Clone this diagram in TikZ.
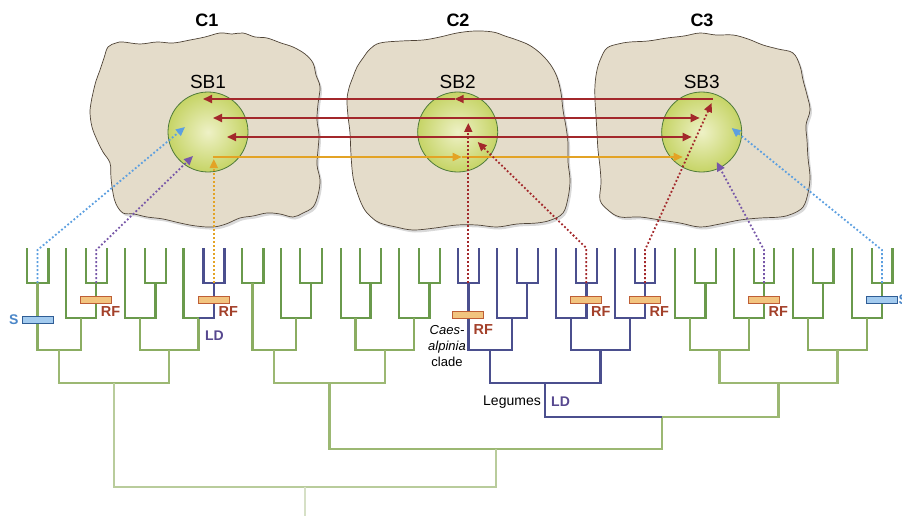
\documentclass[tikz,border=0pt]{standalone}
\usepackage{fontspec}
\setmainfont{Liberation Sans}
\usepackage{xcolor}
\usetikzlibrary{arrows.meta,calc,positioning,shadows}

\definecolor{blobfill}{HTML}{E4DCCA}
\definecolor{blobline}{HTML}{4F4437}
\definecolor{sbline}{HTML}{4E7A3A}
\definecolor{sbin}{HTML}{EEF1C6}
\definecolor{sbout}{HTML}{C6D466}
\definecolor{redarr}{HTML}{A3282B}
\definecolor{orgarr}{HTML}{E3A325}
\definecolor{bluedot}{HTML}{5C9FE0}
\definecolor{purpdot}{HTML}{7757A8}
\definecolor{greenA}{HTML}{6A9A4C}
\definecolor{greenB}{HTML}{8BAD62}
\definecolor{greenC}{HTML}{9CB873}
\definecolor{greenD}{HTML}{B9CC9C}
\definecolor{greenE}{HTML}{D6E0C6}
\definecolor{legblue}{HTML}{4B4F8E}
\definecolor{rffill}{HTML}{F2C47F}
\definecolor{rfline}{HTML}{BE5E36}
\definecolor{rfred}{HTML}{A3402A}
\definecolor{sfill}{HTML}{A3CBEF}
\definecolor{sline}{HTML}{2F5D95}
\definecolor{sblue}{HTML}{4A86C8}
\definecolor{ldpurple}{HTML}{57488F}

\begin{document}
\begin{tikzpicture}[x=1pt,y=-1pt]

        \tikzstyle{cellblob}=[fill=blobfill,draw=blobline,line width=0.7pt,
            drop shadow={shadow xshift=2pt,shadow yshift=-2.5pt,opacity=0.3}]
        \tikzstyle{sbball}=[circle,minimum size=80pt,inner sep=0pt,draw=sbline,
            line width=0.8pt,inner color=sbin,outer color=sbout]
        \tikzstyle{clabel}=[font=\fontsize{18}{20}\selectfont\bfseries]
        \tikzstyle{sblabel}=[font=\fontsize{19}{21}\selectfont,inner sep=1pt]
        \tikzstyle{redline}=[draw=redarr,line width=1.9pt]
        \tikzstyle{orangeline}=[draw=orgarr,line width=1.7pt]
        \tikzstyle{headR}=[-{Triangle[length=9pt,width=8pt]}]
        \tikzstyle{headLR}=[{Triangle[length=9pt,width=8pt]}-{Triangle[length=9pt,width=8pt]}]
        \tikzstyle{dotarrow}=[line width=1.8pt,dash pattern=on 1.8pt off 2.2pt,
            -{Triangle[length=9pt,width=8pt]}]
        \tikzstyle{brA}=[draw=greenA,line width=2.4pt]
        \tikzstyle{brB}=[draw=greenB,line width=2.4pt]
        \tikzstyle{brC}=[draw=greenC,line width=2.4pt]
        \tikzstyle{brD}=[draw=greenD,line width=2.4pt]
        \tikzstyle{brLeg}=[draw=legblue,line width=2.4pt]
        \tikzstyle{rfbar}=[draw=rfline,fill=rffill,line width=0.8pt,
            minimum width=31pt,minimum height=6.5pt,inner sep=0pt]
        \tikzstyle{sbar}=[draw=sline,fill=sfill,line width=0.8pt,
            minimum width=31pt,minimum height=6.5pt,inner sep=0pt]
        \tikzstyle{rflabel}=[text=rfred,font=\fontsize{14.5}{16}\selectfont\bfseries,inner sep=0pt]
        \tikzstyle{slabel}=[text=sblue,font=\fontsize{14}{16}\selectfont\bfseries,inner sep=0pt]
        \tikzstyle{ldlabel}=[text=ldpurple,font=\fontsize{14}{16}\selectfont\bfseries,inner sep=0pt]

        \useasboundingbox (0,0) rectangle (902,516);

        %% Compartments C1, C2, C3
        \path[cellblob] plot[smooth cycle,tension=0.6] coordinates {(108,47) (116,43) (123,42)
            (140,44) (157,42) (173,43) (190,40) (205,37) (220,33) (232,34) (243,33) (255,37)
            (267,38) (281,43) (293,47) (305,54) (313,63) (316,75) (320,87) (318,104) (317,120)
            (319,135) (318,150) (317,165) (320,180) (318,195) (313,207) (303,213) (293,217)
            (280,214) (267,213) (253,216) (240,218) (226,224) (213,227) (196,226) (180,223)
            (163,219) (147,217) (134,214) (123,213) (116,204) (113,193) (111,178) (110,163)
            (103,152) (97,140) (92,127) (90,113) (91,103) (93,93) (96,81) (100,70) (104,58)};
        \path[cellblob] plot[smooth cycle,tension=0.6] coordinates {(363,58) (370,49) (380,43)
            (401,41) (423,40) (440,37) (457,33) (475,31) (493,32) (505,36) (517,40) (529,45)
            (540,53) (550,64) (557,77) (561,93) (563,110) (566,127) (568,143) (568,162)
            (570,180) (568,198) (563,213) (551,220) (537,223) (517,224) (497,227) (477,225)
            (457,225) (435,228) (413,230) (396,227) (380,223) (370,216) (363,207) (357,192)
            (353,177) (351,155) (350,133) (348,116) (347,100) (349,88) (353,77) (357,67)};
        \path[cellblob] plot[smooth cycle,tension=0.6] coordinates {(607,48) (618,44) (630,42)
            (648,41) (667,38) (684,36) (700,33) (716,35) (733,35) (748,39) (763,45) (778,49)
            (793,53) (800,66) (803,80) (807,95) (810,110) (806,125) (807,140) (808,158)
            (810,177) (808,193) (803,207) (792,214) (780,217) (760,218) (740,220) (720,224)
            (700,227) (680,223) (660,220) (640,217) (620,217) (608,210) (600,200) (601,183)
            (600,167) (598,150) (597,133) (596,116) (595,100) (595,85) (597,70) (601,58)};

        \node[clabel] (c1) at (207,20) {C1};
        \node[clabel] (c2) at (458,20) {C2};
        \node[clabel] (c3) at (702,20) {C3};

        %% Storage bodies
        \node[sbball] (sb1) at (208,132) {};
        \node[sbball] (sb2) at (457.7,132) {};
        \node[sbball] (sb3) at (701.7,132) {};
        \node[sblabel,above=2pt of sb1] (sb1lab) {SB1};
        \node[sblabel,above=2pt of sb2] (sb2lab) {SB2};
        \node[sblabel,above=2pt of sb3] (sb3lab) {SB3};

        %% Transfer lines between the storage bodies
        \coordinate (r1a) at ($(sb3)+(11,-33)$);
        \coordinate (r1b) at ($(sb2)+(-3,-33)$);
        \coordinate (r1c) at ($(sb1)+(-5,-33)$);
        \coordinate (r2a) at ($(sb1)+(5,-14)$);
        \coordinate (r2b) at ($(sb3)+(-2,-14)$);
        \coordinate (r3a) at ($(sb1)+(19,5)$);
        \coordinate (r3b) at ($(sb3)+(-10,5)$);
        \coordinate (o1a) at ($(sb1)+(5,25)$);
        \coordinate (o1b) at ($(sb2)+(4,25)$);
        \coordinate (o1c) at ($(sb3)+(-19,25)$);

        \draw[redline,headR] (r1a) -- (r1b);
        \draw[redline,headR] (r1b) -- (r1c);
        \draw[redline,headLR] (r2a) -- (r2b);
        \draw[redline,headLR] (r3a) -- (r3b);
        \draw[orangeline,headR] (o1a) -- (o1b);
        \draw[orangeline,headR] (o1b) -- (o1c);

        %% Tree: leaves and inner nodes
        \foreach \xx [count=\i] in {26.7,48.3,65.7,85.7,106.7,125,145,165.7,183.3,203.3,
            224.3,241.7,263.3,281,300,321.7,340.7,360,381,399,419,440,457.7,479,496.7,
            516.7,537.7,556,576,596.7,615,635,655,675,695,715.7,734,754,774,792.7,
            812.7,833.3,851.7,871.7,892.3}
            \coordinate (l\i) at (\xx,248);

        \foreach \n/\xx/\yy in {na/37.5/283, nb/96.2/283, nc/81/318, nd/59/350,
            ne/155.3/283, nf/140/318, ng/213.8/283, nh/198.5/318, ni/169/350, nj/114/383,
            nk/252.5/283, nl/311/283, nm/296/318, nn/274/350, no/370.5/283, np/355.6/318,
            nq/429.5/283, nr/414/318, ns/385/350, nt/329.5/383,
            nu/468.3/283, nv/527.2/283, nw/512/318, nx/490/350, ny/586.3/283, nz/571/318,
            naa/645/283, nbb/630/318, ncc/600.5/350, leg/545/383,
            ndd/705.3/283, nee/690/318, nff/764/283, ngg/749/318, nhh/719.5/350,
            nii/823/283, njj/808/318, nkk/882/283, nll/867/318, nmm/837.5/350, nnn/778.5/383,
            noo/662/417, npp/496/449, root/305/487}
            \coordinate (\n) at (\xx,\yy);
        \coordinate (base) at (305,516);

        %% Branches
        \foreach \p/\c in {na/l1,na/l2,nb/l4,nb/l5,nc/l3,nc/nb,ne/l7,ne/l8,nf/l6,nf/ne,nh/l9,
            nk/l12,nk/l13,nl/l15,nl/l16,nm/l14,nm/nl,no/l18,no/l19,np/l17,np/no,
            nq/l21,nq/l22,nr/l20,nr/nq,ndd/l35,ndd/l36,nee/l34,nee/ndd,nff/l38,nff/l39,
            ngg/l37,ngg/nff,nii/l41,nii/l42,njj/l40,njj/nii,nkk/l44,nkk/l45,nll/l43,nll/nkk}
            \draw[brA] (\p) -| (\c);
        \foreach \p/\c in {nd/na,nd/nc,ni/nf,ni/nh,nn/nk,nn/nm,ns/np,ns/nr,
            nhh/nee,nhh/ngg,nmm/njj,nmm/nll}
            \draw[brB] (\p) -| (\c);
        \foreach \p/\c in {nj/nd,nj/ni,nt/nn,nt/ns,nnn/nhh,nnn/nmm,noo/nnn,npp/nt,npp/noo}
            \draw[brC] (\p) -| (\c);
        \foreach \p/\c in {root/nj,root/npp}
            \draw[brD] (\p) -| (\c);
        \draw[draw=greenE,line width=2.4pt] (root) -- (base);
        \foreach \p/\c in {ng/l10,ng/l11,nh/ng,nu/l23,nu/l24,nv/l26,nv/l27,nw/l25,nw/nv,
            nx/nu,nx/nw,ny/l29,ny/l30,nz/l28,nz/ny,naa/l32,naa/l33,nbb/l31,nbb/naa,
            ncc/nz,ncc/nbb,leg/nx,leg/ncc,noo/leg}
            \draw[brLeg] (\p) -| (\c);

        %% Marks on branches
        \node[rfbar] (rf1) at ($(nb)+(0,17)$) {};
        \node[rfbar] (rf2) at ($(ng)+(0,17)$) {};
        \node[rfbar] (rf3) at ($(nu)+(0,32)$) {};
        \node[rfbar] (rf4) at ($(ny)+(0,17)$) {};
        \node[rfbar] (rf5) at ($(naa)+(0,17)$) {};
        \node[rfbar] (rf6) at ($(nff)+(0,17)$) {};
        \node[sbar] (s1) at ($(na)+(0,37)$) {};
        \node[sbar] (s2) at ($(nkk)+(0,17)$) {};

        \node[rflabel,anchor=north] (rft1) at ($(rf1.south east)+(-1.5,2.5)$) {RF};
        \node[rflabel,anchor=north] (rft2) at ($(rf2.south east)+(-1.5,2.5)$) {RF};
        \node[rflabel,anchor=north] (rft3) at ($(rf3.south east)+(-1,5.5)$) {RF};
        \node[rflabel,anchor=north] (rft4) at ($(rf4.south east)+(-1.5,2.5)$) {RF};
        \node[rflabel,anchor=north] (rft5) at ($(rf5.south east)+(-1.5,2.5)$) {RF};
        \node[rflabel,anchor=north] (rft6) at ($(rf6.south east)+(-1.5,2.5)$) {RF};
        \node[slabel,left=3pt of s1] (st1) {S};
        \node[slabel,right=0.5pt of s2] (st2) {S};

        \node[ldlabel] (ld1) at ($(nh)+(16,18)$) {LD};
        \node[align=center,font=\fontsize{13}{16}\selectfont] (caes) at (447,346)
            {\textit{Caes-}\\\textit{alpinia}\\clade};
        \node[anchor=east,font=\fontsize{14}{16}\selectfont,inner sep=0pt] (legtxt)
            at ($(leg)+(-4,19)$) {Legumes};
        \node[ldlabel,anchor=west] (ld2) at ($(leg)+(6,19)$) {LD};

        %% Dotted links from the tree to the storage bodies
        \coordinate (tb1) at ($(sb1)+(-23,-5)$);
        \coordinate (tp1) at ($(sb1)+(-15,24)$);
        \coordinate (to1) at ($(sb1)+(5,27)$);
        \coordinate (tr2a) at ($(sb2)+(10.6,-9)$);
        \coordinate (tr2b) at ($(sb2)+(20,10)$);
        \coordinate (tr3) at ($(sb3)+(10,-29)$);
        \coordinate (tp3) at ($(sb3)+(15,30)$);
        \coordinate (tb3) at ($(sb3)+(30,-4)$);

        \draw[dotarrow,draw=bluedot] (na) -- ++(0,-33) -- (tb1);
        \draw[dotarrow,draw=purpdot] (nb) -- ++(0,-33) -- (tp1);
        \draw[dotarrow,draw=orgarr] (ng) -- (ng |- to1);
        \draw[dotarrow,draw=redarr] (nu) -- (nu |- tr2a);
        \draw[dotarrow,draw=redarr] (ny) -- ++(0,-35) -- (tr2b);
        \draw[dotarrow,draw=redarr] (naa) -- ++(0,-33) -- (tr3);
        \draw[dotarrow,draw=purpdot] (nff) -- ++(0,-33) -- (tp3);
        \draw[dotarrow,draw=bluedot] (nkk) -- ++(0,-33) -- (tb3);

\end{tikzpicture}
\end{document}
